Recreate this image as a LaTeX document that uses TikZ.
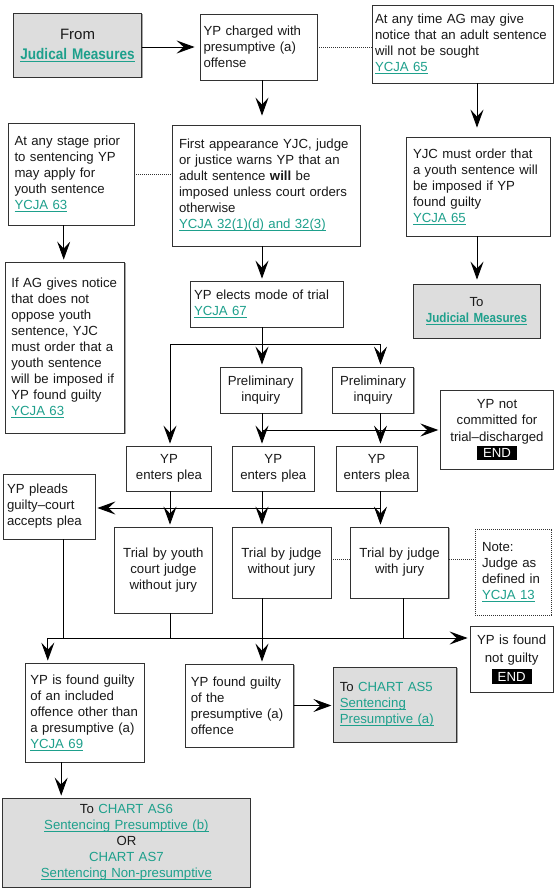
\documentclass[tikz,border=0pt]{standalone}
\usepackage{fontspec}
\setmainfont{Liberation Sans}
\newfontfamily\narrowbold{Liberation Sans}[FakeStretch=0.88]
\usetikzlibrary{arrows.meta,shadows,calc}
\definecolor{linkc}{RGB}{30,160,140}
\definecolor{boxgray}{RGB}{221,221,221}
\definecolor{edge}{RGB}{50,50,50}
\definecolor{txt}{RGB}{25,25,25}
\newcommand\myul[1]{\leavevmode\hbox{\setbox0=\hbox{#1}\rlap{\rule[-2.2pt]{\wd0}{0.7pt}}\box0}}
\newcommand\lnk[1]{\textcolor{linkc}{\myul{#1}}}
\newcommand\lnkb[2]{\leavevmode{\fontsize{#1}{16}\selectfont\narrowbold\bfseries\color{linkc}\myul{#2}}}
\newcommand\stoptag{{\setlength\fboxsep{2.5pt}\colorbox{black}{\hspace{3.5pt}\textcolor{white}{END}\hspace{3.5pt}}}}
\tikzset{
  box/.style={draw=edge, line width=0.8pt, fill=white, text=txt, inner ysep=0pt,
    font=\fontsize{13.2}{16}\selectfont,
    drop shadow={shadow xshift=1pt, shadow yshift=-1pt, fill=black, opacity=0.35}},
  notebox/.style={draw=edge, line width=0.7pt, dash pattern=on 1pt off 1pt, fill=white, text=txt,
    inner ysep=0pt, font=\fontsize{13.2}{16}\selectfont},
  arr/.style={-{Stealth[length=18pt,width=13pt,inset=7pt]}, line width=0.8pt, shorten >=2pt},
  ln/.style={line width=0.8pt},
  dotln/.style={draw=edge, line width=0.7pt, dash pattern=on 1pt off 1pt},
}
\begin{document}
\begin{tikzpicture}[x=1pt,y=-1pt]
\useasboundingbox (0,0) rectangle (555,889);

% boxes
\node[box, fill=boxgray, align=center, text width=118pt, inner xsep=5pt, minimum height=64pt,
  font=\fontsize{15}{20}\selectfont] (from) at (77.5,45) {From\\\lnkb{15.4}{Judical Measures}};
\node[box, align=left, text width=110pt, inner xsep=3.5pt, minimum height=66pt] (charged) at (258.5,47)
  {YP charged with\\presumptive (a)\\offense};
\node[box, align=left, text width=175pt, inner xsep=3pt, minimum height=78pt] (ag) at (462.5,44)
  {At any time AG may give\\notice that an adult sentence\\will not be sought\\\lnk{YCJA 65}};
\node[box, align=left, text width=130pt, inner xsep=7pt, minimum height=99pt] (yjc) at (478,186.5)
  {YJC must order that\\a youth sentence will\\be imposed if YP\\found guilty\\\lnk{YCJA 65}};
\node[box, fill=boxgray, align=center, text width=117pt, inner xsep=5pt, minimum height=54pt] (tojm) at (476.5,311)
  {To\\\lnkb{13.2}{Judicial Measures}};
\node[box, align=left, text width=113pt, inner xsep=6.5pt, minimum height=102pt] (stage) at (71,174)
  {At any stage prior\\to sentencing YP\\may apply for\\youth sentence\\\lnk{YCJA 63}};
\node[box, align=left, text width=174pt, inner xsep=7pt, minimum height=121pt] (first) at (266,185.5)
  {First appearance YJC, judge\\or justice warns YP that an\\adult sentence \textbf{will} be\\imposed unless court orders\\otherwise\\\lnk{YCJA 32(1)(d) and 32(3)}};
\node[box, align=left, text width=107.3pt, inner xsep=6pt, minimum height=171pt] (ifag) at (65,347.5)
  {If AG gives notice\\that does not\\oppose youth\\sentence, YJC\\must order that a\\youth sentence\\will be imposed if\\YP found guilty\\\lnk{YCJA 63}};
\node[box, align=left, text width=145pt, inner xsep=4pt, minimum height=46pt] (elects) at (266.5,304)
  {YP elects mode of trial\\\lnk{YCJA 67}};
\node[box, align=center, text width=75.6pt, inner xsep=3pt, minimum height=46pt] (pre1) at (260.8,390)
  {Preliminary\\inquiry};
\node[box, align=center, text width=74.8pt, inner xsep=3pt, minimum height=46pt] (pre2) at (373.1,390)
  {Preliminary\\inquiry};
\node[box, align=center, text width=106.6pt, inner xsep=3pt, minimum height=79pt,
  font=\fontsize{13.2}{16.5}\selectfont] (notcom) at (497,429.5)
  {YP not\\committed for\\trial--discharged\\\stoptag};
\node[box, align=center, text width=78.6pt, inner xsep=3pt, minimum height=45pt] (plea1) at (169,468.5)
  {YP\\enters plea};
\node[box, align=center, text width=75.4pt, inner xsep=3pt, minimum height=45pt] (plea2) at (273.3,468.5)
  {YP\\enters plea};
\node[box, align=center, text width=74.7pt, inner xsep=3pt, minimum height=45pt] (plea3) at (376.7,468.5)
  {YP\\enters plea};
\node[box, align=left, text width=84.5pt, inner xsep=3.5pt, minimum height=65pt] (pleads) at (49.25,506.5)
  {YP pleads\\guilty--court\\accepts plea};
\node[box, align=center, text width=92.1pt, inner xsep=3pt, minimum height=86pt] (t1) at (163.35,570)
  {Trial by youth\\court judge\\without jury};
\node[box, align=center, text width=93pt, inner xsep=3pt, minimum height=71pt] (t2) at (281.5,562.5)
  {Trial by judge\\without jury};
\node[box, align=center, text width=92.4pt, inner xsep=3pt, minimum height=71pt] (t3) at (399.6,562.5)
  {Trial by judge\\with jury};
\node[notebox, align=left, text width=62.9pt, inner xsep=6.6pt, minimum height=86pt] (note) at (513.45,572)
  {Note:\\Judge as\\defined in\\\lnk{YCJA 13}};
\node[box, align=center, text width=77.3pt, inner xsep=3pt, minimum height=66pt,
  font=\fontsize{13.2}{18.5}\selectfont] (notguilty) at (511.65,659)
  {YP is found\\not guilty\\\stoptag};
\node[box, align=left, text width=109.6pt, inner xsep=4.5pt, minimum height=99pt] (incl) at (85.1,712.5)
  {YP is found guilty\\of an included\\offence other than\\a presumptive (a)\\\lnk{YCJA 69}};
\node[box, align=left, text width=98pt, inner xsep=5pt, minimum height=83pt] (guiltyp) at (239.8,705.5)
  {YP found guilty\\of the\\presumptive (a)\\offence};
\node[box, fill=boxgray, align=left, text width=110.8pt, inner xsep=6pt, minimum height=75pt] (as5) at (395.2,704.5)
  {To \textcolor{linkc}{CHART AS5}\\\lnk{Sentencing}\\\lnk{Presumptive (a)}};
\node[box, fill=boxgray, align=center, text width=237.2pt, inner xsep=5pt, minimum height=89pt] (as6) at (126.4,842.5)
  {To \textcolor{linkc}{CHART AS6}\\\lnk{Sentencing Presumptive (b)}\\OR\\\textcolor{linkc}{CHART AS7}\\\lnk{Sentencing Non-presumptive}};

% helper coordinates
\coordinate (cA) at (262,0);
\coordinate (cB) at (170,0);
\coordinate (cC) at (380.5,0);
\coordinate (cD) at (403.5,0);
\coordinate (cL) at (63.7,0);
\coordinate (cR) at (477,0);
\coordinate (cI) at (61.2,0);
\coordinate (j1) at (262,344);
\coordinate (j1l) at (170,344);
\coordinate (j1r) at (380.5,344);
\coordinate (j2) at (262,430);
\coordinate (j3r) at (380.5,508);
\coordinate (j4l) at (47.8,638);
\coordinate (yd) at (0,559);
\coordinate (ya) at (0,47);

% connectors
\draw[arr, shorten >=5pt] (from.east |- ya) -- (charged.west |- ya);
\draw[dotln] (charged.east |- ya) -- (ag.west |- ya);
\draw[arr, shorten >=9pt] (ag.south -| cR) -- (yjc.north -| cR);
\draw[arr, shorten >=4pt] (yjc.south -| cR) -- (tojm.north -| cR);
\draw[arr, shorten >=9pt] (charged.south -| cA) -- (first.north -| cA);
\draw[dotln] (stage.east) -- (first.west |- stage.east);
\draw[arr] (stage.south -| cL) -- (ifag.north -| cL);
\draw[arr] (first.south -| cA) -- (elects.north -| cA);
\draw[arr] (elects.south -| cA) -- (pre1.north -| cA);
\draw[ln] (j1l) -- (j1r);
\draw[arr] (j1l) -- (plea1.north -| cB);
\draw[arr] (j1r) -- (pre2.north -| cC);
\draw[arr] (pre1.south -| cA) -- (plea2.north -| cA);
\draw[arr] (pre2.south -| cC) -- (plea3.north -| cC);
\draw[arr] (j2) -- (notcom.west |- j2);
\draw[arr] (plea1.south -| cB) -- (t1.north -| cB);
\draw[arr] (plea2.south -| cA) -- (t2.north -| cA);
\draw[arr] (plea3.south -| cC) -- (t3.north -| cC);
\draw[arr] (j3r) -- (pleads.east |- j3r);
\draw[dotln] (t2.east |- yd) -- (t3.west |- yd);
\draw[dotln] (t3.east |- yd) -- (note.west |- yd);
\draw[ln] (pleads.south -| cL) -- (cL |- j4l);
\draw[ln] (t1.south -| cB) -- (cB |- j4l);
\draw[ln] (t3.south -| cD) -- (cD |- j4l);
\draw[arr] (t2.south -| cA) -- (guiltyp.north -| cA);
\draw[arr] (j4l) -- (notguilty.west |- j4l);
\draw[arr] (j4l) -- (incl.north -| j4l);
\draw[arr] (guiltyp.east) -- (as5.west |- guiltyp.east);
\draw[arr] (incl.south -| cI) -- (as6.north -| cI);
\end{tikzpicture}
\end{document}
